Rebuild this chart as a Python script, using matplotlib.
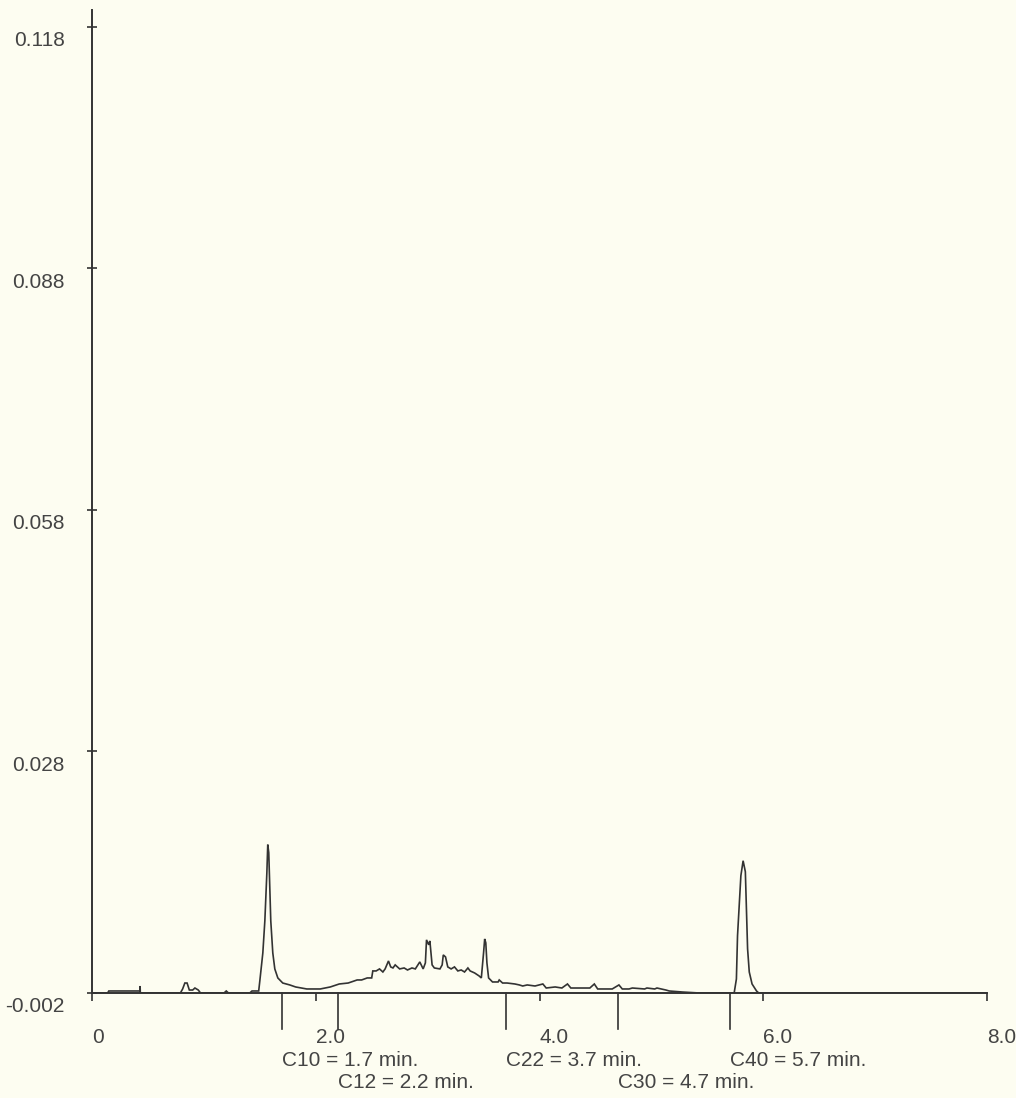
import matplotlib
matplotlib.use("Agg")
import matplotlib.pyplot as plt
from matplotlib.transforms import ScaledTranslation

# Chromatogram trace: retention time (min) and detector signal
time_min = [
    0.00, 0.14, 0.15, 0.428, 0.430, 0.432, 0.79, 0.81, 0.83, 0.85, 0.87, 0.90, 0.92, 0.95, 0.97,
    1.18, 1.20, 1.22, 1.41, 1.43, 1.49, 1.50, 1.527, 1.545, 1.563, 1.571, 1.580, 1.598, 1.616,
    1.634, 1.661, 1.705, 1.768, 1.82, 1.92, 2.04, 2.13, 2.21, 2.29, 2.37, 2.41, 2.46, 2.50,
    2.51, 2.54, 2.57, 2.60, 2.62, 2.65, 2.67, 2.69, 2.71, 2.75, 2.79, 2.82, 2.86, 2.89, 2.93,
    2.96, 2.98, 2.99, 3.01, 3.02, 3.04, 3.06, 3.11, 3.13, 3.14, 3.16, 3.18, 3.21, 3.24, 3.27,
    3.30, 3.33, 3.36, 3.38, 3.42, 3.46, 3.48, 3.50, 3.51, 3.52, 3.53, 3.545, 3.58, 3.63, 3.64,
    3.67, 3.71, 3.78, 3.82, 3.85, 3.89, 3.96, 4.03, 4.06, 4.14, 4.20, 4.25, 4.28, 4.45, 4.49,
    4.52, 4.65, 4.71, 4.74, 4.80, 4.83, 4.94, 4.96, 5.03, 5.05, 5.13, 5.16, 5.28, 5.43, 5.74,
    5.76, 5.77, 5.80, 5.82, 5.84, 5.85, 5.86, 5.875, 5.90, 5.94, 5.96, 8.00,
]
signal = [
    -0.00200, -0.00200, -0.00175, -0.00175, -0.00113, -0.00200, -0.00200, -0.00150, -0.00076,
    -0.00076, -0.00163, -0.00163, -0.00138, -0.00163, -0.00200,
    -0.00200, -0.00175, -0.00200, -0.00200, -0.00175, -0.00175, -0.00051, 0.00298, 0.00696,
    0.01294, 0.01643, 0.01543, 0.00696, 0.00298,
    0.00099, -0.00013, -0.00076, -0.00100, -0.00125, -0.00150, -0.00150, -0.00125, -0.00088,
    -0.00076, -0.00038, -0.00038, -0.00013, -0.00013,
    0.00074, 0.00074, 0.00099, 0.00061, 0.00099, 0.00198, 0.00124, 0.00111, 0.00149, 0.00099,
    0.00111, 0.00086, 0.00111, 0.00099, 0.00186,
    0.00099, 0.00174, 0.00460, 0.00398, 0.00447, 0.00149, 0.00111, 0.00099, 0.00149, 0.00273,
    0.00248, 0.00124, 0.00099, 0.00124, 0.00074,
    0.00086, 0.00061, 0.00111, 0.00074, 0.00049, 0.00012, -0.00013, 0.00298, 0.00472, 0.00423,
    0.00174, -0.00013, -0.00063, -0.00063, -0.00038,
    -0.00076, -0.00076, -0.00088, -0.00100, -0.00113, -0.00100, -0.00113, -0.00088, -0.00138,
    -0.00125, -0.00138, -0.00088, -0.00138, -0.00138, -0.00088,
    -0.00150, -0.00150, -0.00100, -0.00150, -0.00150, -0.00138, -0.00150, -0.00138, -0.00150,
    -0.00138, -0.00163, -0.00175, -0.00188, -0.00200, -0.00200,
    -0.00026, 0.00510, 0.01257, 0.01443, 0.01306, 0.00846, 0.00348, 0.00061, -0.00088, -0.00175,
    -0.00200, -0.00200,
]

ytick_values = [-0.002, 0.028, 0.058, 0.088, 0.118]
ytick_labels = ["-0.002", "0.028", "0.058", "0.088", "0.118"]
xtick_values = [0, 2, 4, 6, 8]
xtick_labels = ["0", "2.0", "4.0", "6.0", "8.0"]

# retention time markers for the n-alkane standards
marker_names = ["C10", "C12", "C22", "C30", "C40"]
marker_times = [1.7, 2.2, 3.7, 4.7, 5.7]
marker_rows = [0, 1, 0, 1, 0]

bg = "#fdfdf1"
ink = "#333333"
text_col = "#444444"

plt.rcParams["font.family"] = ["Liberation Sans", "DejaVu Sans"]

W, H = 1016, 1098
fig = plt.figure(figsize=(W / 100, H / 100), dpi=100, facecolor=bg)
ax = fig.add_axes([92 / W, 1 - 993 / H, 895 / W, 983 / H], facecolor=bg)

ax.plot(time_min, signal, color=ink, lw=1.2, solid_joinstyle="miter")

ax.set_xlim(0, 8)
ax.set_ylim(-0.002, 0.1201)

for side in ["top", "right"]:
    ax.spines[side].set_visible(False)
for side in ["left", "bottom"]:
    ax.spines[side].set_color(ink)
    ax.spines[side].set_linewidth(1.4)

ax.set_yticks(ytick_values)
ax.set_yticklabels(ytick_labels)
ax.tick_params(axis="y", direction="inout", length=7.5, width=1.2, color=ink,
               pad=16, labelsize=15, labelcolor=text_col)
for lab in ax.get_yticklabels():
    lab.set_transform(lab.get_transform() + ScaledTranslation(0, -0.12, fig.dpi_scale_trans))

ax.set_xticks(xtick_values)
ax.set_xticklabels(xtick_labels, ha="left")
ax.tick_params(axis="x", direction="out", length=6, width=1.2, color=ink,
               pad=19, labelsize=15, labelcolor=text_col)

# marker lines below the axis with their labels
drop = 36 / 983
for name, t, row in zip(marker_names, marker_times, marker_rows):
    ax.axvline(t, ymin=-drop, ymax=0, color=ink, lw=1.2, clip_on=False)
    ax.annotate(f"{name} = {t} min.", xy=(t, 0), xycoords=("data", "axes fraction"),
                xytext=(0, -68 - 21 * row), textcoords="offset pixels",
                ha="left", va="center", fontsize=15, color=text_col)

fig.savefig("out.png", dpi=100, facecolor=bg)
